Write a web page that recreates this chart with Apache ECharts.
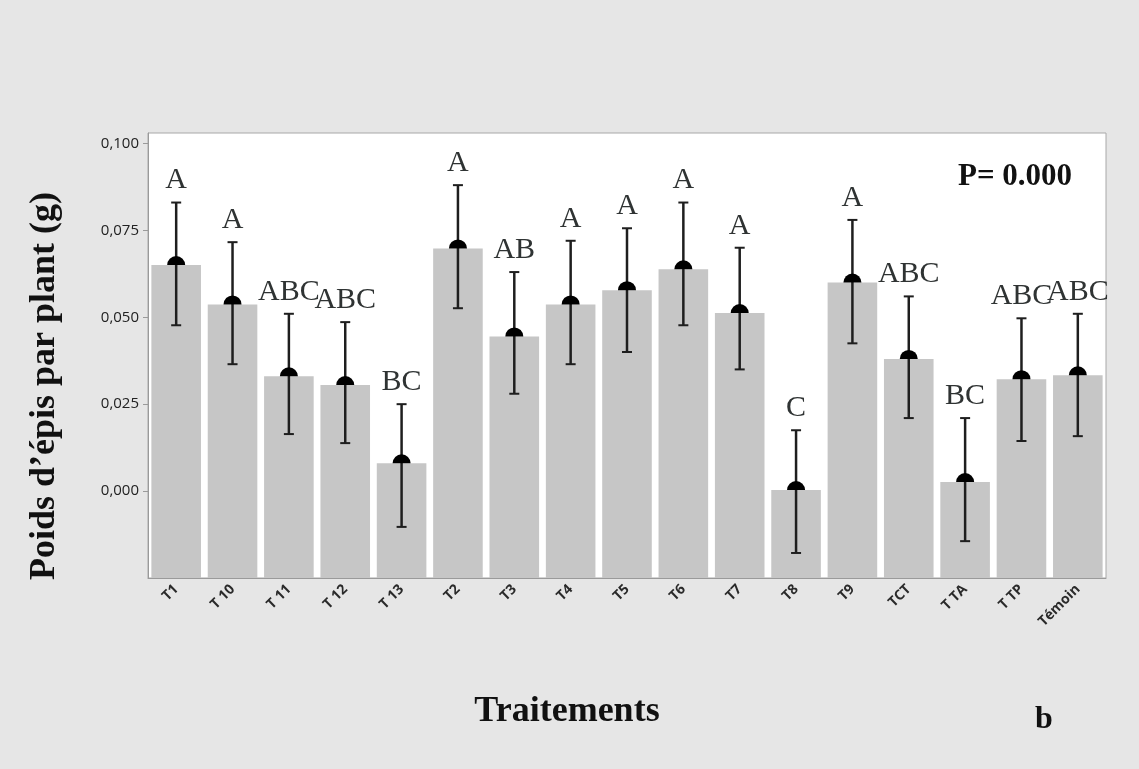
<!DOCTYPE html>
<html>
<head>
<meta charset="utf-8">
<script src="https://cdn.jsdelivr.net/npm/echarts@6/dist/echarts.min.js"></script>
<style>
  html, body { margin: 0; padding: 0; background: #e6e6e6; }
  #main { width: 1139px; height: 769px; }
</style>
</head>
<body>
<div id="main"></div>
<script>
// categories on the x axis
var categories = ["T1", "T 10", "T 11", "T 12", "T 13", "T2", "T3", "T4", "T5", "T6", "T7", "T8", "T9", "TCT", "T TA", "T TP", "Témoin"];
// mean weight (g) per treatment
var means = [0.065, 0.0537, 0.033, 0.0305, 0.008, 0.0698, 0.0445, 0.0537, 0.0578, 0.0638, 0.0512, 0.0003, 0.060, 0.038, 0.0026, 0.0322, 0.0333];
// error bar ends
var upper = [0.083, 0.0716, 0.051, 0.0486, 0.025, 0.088, 0.063, 0.072, 0.0756, 0.083, 0.070, 0.0175, 0.078, 0.056, 0.021, 0.0497, 0.051];
var lower = [0.0477, 0.0365, 0.0164, 0.0138, -0.0103, 0.0526, 0.028, 0.0365, 0.040, 0.0477, 0.035, -0.0178, 0.0425, 0.021, -0.0144, 0.0144, 0.0158];
// grouping letters
var letters = ["A", "A", "ABC", "ABC", "BC", "A", "AB", "A", "A", "A", "A", "C", "A", "ABC", "BC", "ABC", "ABC"];

// y tick labels
var yTicks = [0, 0.025, 0.05, 0.075, 0.1];

var seriesData = categories.map(function (c, i) {
  return [i, means[i], lower[i], upper[i], letters[i]];
});

var chart = echarts.init(document.getElementById("main"));

var option = {
  backgroundColor: "#e6e6e6",
  animation: false,
  grid: {
    left: 148,
    right: 33,
    top: 133,
    bottom: 191,
    show: true,
    backgroundColor: "#ffffff",
    borderColor: "#a8a8a8",
    borderWidth: 1
  },
  xAxis: {
    type: "category",
    data: categories,
    axisLine: { onZero: false, lineStyle: { color: "#9a9a9a" } },
    axisTick: { alignWithLabel: true, length: 4, lineStyle: { color: "#9a9a9a" } },
    axisLabel: {
      rotate: 45,
      interval: 0,
      margin: 9,
      fontFamily: "Open Sans",
      fontWeight: "bold",
      fontSize: 14,
      color: "#2a2a2a"
    }
  },
  yAxis: {
    type: "value",
    min: -0.025,
    max: 0.103,
    interval: 0.025,
    splitLine: { show: false },
    axisLine: { show: true, lineStyle: { color: "#9a9a9a" } },
    axisTick: { show: true, length: 5, customValues: yTicks, lineStyle: { color: "#9a9a9a" } },
    axisLabel: {
      customValues: yTicks,
      fontFamily: "Open Sans",
      fontSize: 15,
      color: "#222",
      margin: 9,
      formatter: function (v) {
        return v.toFixed(3).replace(".", ",");
      }
    }
  },
  graphic: [
    {
      type: "text",
      x: 45,
      y: 386,
      rotation: Math.PI / 2,
      style: {
        text: "Poids d’épis par plant (g)",
        font: "bold 36px 'Liberation Serif'",
        fill: "#111",
        align: "center",
        verticalAlign: "middle"
      }
    },
    {
      type: "text",
      x: 567,
      y: 712,
      style: {
        text: "Traitements",
        font: "bold 36px 'Liberation Serif'",
        fill: "#111",
        align: "center",
        verticalAlign: "middle"
      }
    },
    {
      type: "text",
      x: 1015,
      y: 177,
      style: {
        text: "P= 0.000",
        font: "bold 31px 'Liberation Serif'",
        fill: "#111",
        align: "center",
        verticalAlign: "middle"
      }
    },
    {
      type: "text",
      x: 1044,
      y: 720,
      style: {
        text: "b",
        font: "bold 32px 'Liberation Serif'",
        fill: "#111",
        align: "center",
        verticalAlign: "middle"
      }
    }
  ],
  series: [
    {
      type: "custom",
      data: seriesData,
      clip: false,
      renderItem: function (params, api) {
        var idx = api.value(0);
        var top = api.coord([idx, api.value(1)]);
        var lo = api.coord([idx, api.value(2)]);
        var hi = api.coord([idx, api.value(3)]);
        var bandW = api.size([1, 0])[0];
        var barW = bandW * 0.88;
        var cs = params.coordSys;
        var bottom = cs.y + cs.height;
        var x = top[0];
        var cap = 5;
        return {
          type: "group",
          children: [
            {
              type: "rect",
              shape: { x: x - barW / 2, y: top[1], width: barW, height: bottom - top[1] },
              style: { fill: "#c6c6c6" }
            },
            {
              type: "line",
              shape: { x1: x, y1: hi[1], x2: x, y2: lo[1] },
              style: { stroke: "#1e1e1e", lineWidth: 2.5 }
            },
            {
              type: "line",
              shape: { x1: x - cap, y1: hi[1], x2: x + cap, y2: hi[1] },
              style: { stroke: "#1e1e1e", lineWidth: 2 }
            },
            {
              type: "line",
              shape: { x1: x - cap, y1: lo[1], x2: x + cap, y2: lo[1] },
              style: { stroke: "#1e1e1e", lineWidth: 2 }
            },
            {
              type: "sector",
              shape: { cx: x, cy: top[1], r0: 0, r: 9, startAngle: Math.PI, endAngle: Math.PI * 2, clockwise: true },
              style: { fill: "#000" }
            },
            {
              type: "text",
              x: x,
              y: hi[1] - 7,
              style: {
                text: api.value(4),
                font: "30px 'Liberation Serif'",
                fill: "#2f3333",
                align: "center",
                verticalAlign: "bottom"
              }
            }
          ]
        };
      }
    }
  ]
};

chart.setOption(option);
</script>
</body>
</html>
